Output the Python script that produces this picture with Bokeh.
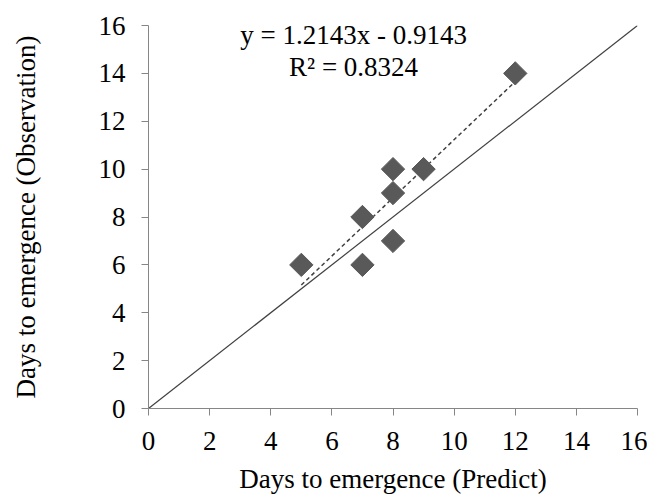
import math
from bokeh.plotting import figure
from bokeh.models import Label, Range1d, FixedTicker
from bokeh.embed import file_html
from bokeh.resources import INLINE

# Data
predict = [5, 7, 7, 8, 8, 8, 9, 12]
observed = [6, 6, 8, 7, 9, 10, 10, 14]
slope = 1.2143
intercept = -0.9143
r2 = 0.8324
ticks = [0, 2, 4, 6, 8, 10, 12, 14, 16]
one_to_one = [0, 16]

FONT = "Liberation Serif"

p = figure(frame_width=489, frame_height=383, output_backend="svg", toolbar_location=None,
           x_range=Range1d(0, 16), y_range=Range1d(0, 16),
           min_border_left=148, min_border_right=10, min_border_top=25, min_border_bottom=78)
p.outline_line_color = None
p.grid.visible = False
p.background_fill_color = "white"

for ax in (p.xaxis, p.yaxis):
    ax.ticker = FixedTicker(ticks=ticks)
    ax.minor_tick_line_color = None
    ax.axis_line_color = "#868686"
    ax.major_tick_line_color = "#868686"
    ax.major_tick_out = 7
    ax.major_tick_in = 0
    ax.major_label_text_font = FONT
    ax.major_label_text_font_size = "27px"
    ax.major_label_text_color = "black"
    ax.axis_label_text_font = FONT
    ax.axis_label_text_font_size = "27px"
    ax.axis_label_text_font_style = "normal"
    ax.axis_label_text_color = "black"

p.xaxis.axis_label = "Days to emergence (Predict)"
p.yaxis.axis_label = "Days to emergence (Observation)"
p.xaxis.major_label_standoff = 16
p.yaxis.major_label_standoff = 16
p.xaxis.axis_label_standoff = 11
p.yaxis.axis_label_standoff = 55

# 1:1 line
p.line(one_to_one, one_to_one, line_color="#404040", line_width=1.2)

# trend line
xs = [min(predict), max(predict)]
ys = [slope * x + intercept for x in xs]
p.line(xs, ys, line_color="#404040", line_width=1.5, line_dash="4 3")

# points
p.scatter(predict, observed, marker="square", size=16.5, angle=math.pi / 4,
          fill_color="#595959", line_color="#595959")

eq1 = Label(x=6.71, y=15.62, text=f"y = {slope:.4f}x - {abs(intercept):.4f}", text_font=FONT,
            text_font_size="27px", text_align="center", text_baseline="middle", text_color="black")
eq2 = Label(x=6.71, y=14.25, text=f"R\u00b2 = {r2:.4f}", text_font=FONT,
            text_font_size="27px", text_align="center", text_baseline="middle", text_color="black")
p.add_layout(eq1)
p.add_layout(eq2)

open("out.html", "w").write(file_html(p, INLINE))
